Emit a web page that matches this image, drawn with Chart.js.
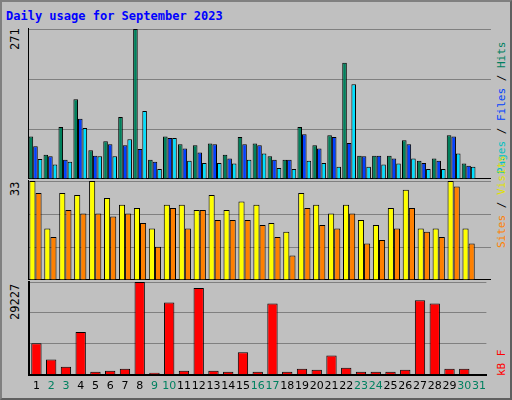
<!DOCTYPE html>
<html>
<head>
<meta charset="utf-8">
<script src="https://cdn.jsdelivr.net/npm/chart.js@4"></script>
<style>
body { margin:0; background:#fff; }
#box { position:relative; width:508px; height:396px; background:#c0c0c0; border:2px solid #808080; border-right-color:#606060; border-bottom-color:#606060; overflow:hidden; }
.t { position:absolute; font-family:"DejaVu Sans Mono",monospace; font-size:11px; }
.rot { transform-origin:0 0; transform:rotate(-90deg); white-space:nowrap; }
canvas { position:absolute; }
</style>
</head>
<body>
<div id="box">
  <div class="t" style="left:4px;top:7px;color:#0000ff;font-weight:bold;font-size:12px">Daily usage for September 2023</div>
  <div class="t rot" style="left:6px;top:48px;font-size:12px">271</div>
  <div class="t rot" style="left:6px;top:194px;font-size:12px">33</div>
  <div class="t rot" style="left:6px;top:318px;font-size:12px">29227</div>
  <div class="t rot" style="left:493px;top:172px;"><span style="color:#00c0c0">Pages</span> / <span style="color:#0040ff">Files</span> / <span style="color:#008060">Hits</span></div>
  <div class="t rot" style="left:493px;top:246px;"><span style="color:#ff8000">Sites</span> / <span style="color:#e0e000">Visits</span></div>
  <div class="t rot" style="left:493px;top:374px;color:#ff0000">kB F</div>
  <canvas id="c1" width="463" height="152" style="left:26px;top:25px"></canvas>
  <canvas id="c2" width="463" height="101" style="left:26px;top:177px"></canvas>
  <canvas id="c3" width="463" height="118" style="left:26px;top:278px"></canvas>
</div>
<script>
// dados
const dias = ['1','2','3','4','5','6','7','8','9','10','11','12','13','14','15','16','17','18','19','20','21','22','23','24','25','26','27','28','29','30','31'];
const fimDeSemana = ['2','3','9','10','16','17','23','24','30','31'];
const hits  = [77,44,94,144,52,68,112,271,35,77,63,61,64,44,76,64,41,35,94,61,79,210,42,42,42,70,33,37,79,28,0];
const files = [59,41,35,109,42,63,61,54,31,74,55,48,63,37,63,61,35,35,81,55,76,65,41,42,37,63,29,33,77,24,0];
const pages = [36,26,31,92,41,41,72,123,18,74,33,29,29,28,35,46,20,18,33,29,22,171,22,26,28,37,18,18,46,22,0];
const visits = [33,17.2,29,28.3,33,27.3,25.1,24,17.2,25.1,25.1,23.3,28.3,23.3,26.2,25.1,19,16.1,29,25.1,22.2,25.1,20,18.3,24,30.1,17.2,17.2,33,17.2,0];
const sites  = [29,14.3,23.3,22.2,22.2,21.2,22.2,19,11.1,24,17.2,23.3,20,20,20,18.3,14.3,8.2,24,18.3,17.2,22.2,12.2,13.3,17.2,24,16.1,14.3,31.2,12.2,0];
const kbytes = [9956,4818,2569,13490,964,1285,1927,29227,642,22803,1285,27300,1285,964,7066,964,22482,964,1927,1606,6102,2248,964,964,964,1606,23445,22482,1927,1927,0];

function ds(data, cor, cat) {
    return { data, backgroundColor: cor, borderColor: '#000', borderWidth: 1, barPercentage: 1, categoryPercentage: cat };
}

function painel(id, datasets, max, mostrarX) {
    return new Chart(document.getElementById(id), {
        type: 'bar',
        data: { labels: dias, datasets },
        options: {
            responsive: false,
            animation: false,
            devicePixelRatio: 1,
            layout: { padding: { top: 2 } },
            plugins: { legend: { display: false }, tooltip: { enabled: false } },
            scales: {
                x: {
                    grid: { display: false, drawTicks: false },
                    border: { color: '#000', width: 2 },
                    ticks: {
                        display: mostrarX,
                        maxRotation: 0, autoSkip: false, padding: 5,
                        font: { family: 'DejaVu Sans', size: 11 },
                        color: (c) => fimDeSemana.includes(dias[c.index]) ? '#008060' : '#000',
                    },
                },
                y: {
                    min: 0, max,
                    ticks: { display: false, stepSize: max / 3 },
                    grid: { color: '#808080', lineWidth: 1, drawTicks: false },
                    border: { color: '#000', width: 2 },
                },
            },
        },
    });
}

painel('c1', [ds(hits, '#00805c', 0.92), ds(files, '#0040ff', 0.92), ds(pages, '#00e0ff', 0.92)], 271, false);
painel('c2', [ds(visits, '#ffff00', 0.82), ds(sites, '#ff8000', 0.82)], 33, false);
painel('c3', [ds(kbytes, '#ff0000', 0.7)], 29227, true);
</script>
</body>
</html>
